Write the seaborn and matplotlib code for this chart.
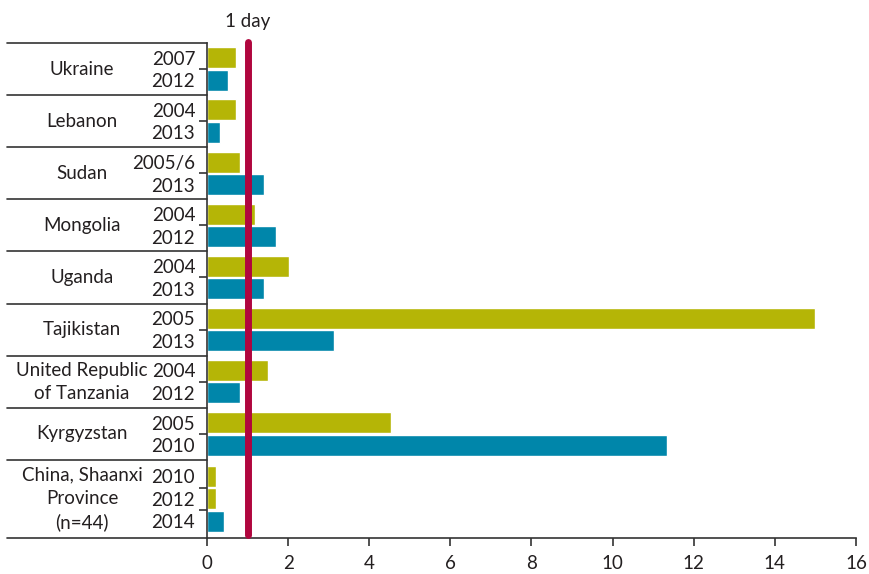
import pandas as pd
import seaborn as sns
import matplotlib.pyplot as plt

# Données : une ligne par barre, de haut en bas
pays = ["Ukraine", "Lebanon", "Sudan", "Mongolia", "Uganda", "Tajikistan",
        "United Republic\nof Tanzania", "Kyrgyzstan", "China, Shaanxi\nProvince\n(n=44)"]
annees = [["2007", "2012"], ["2004", "2013"], ["2005/6", "2013"], ["2004", "2012"],
          ["2004", "2013"], ["2005", "2013"], ["2004", "2012"], ["2005", "2010"],
          ["2010", "2012", "2014"]]
valeurs = [[0.71, 0.52], [0.71, 0.32], [0.81, 1.4], [1.18, 1.7], [2.02, 1.4],
           [15.0, 3.13], [1.5, 0.81], [4.54, 11.34], [0.22, 0.22, 0.42]]
series = [["first", "last"]] * 8 + [["first", "first", "last"]]

palette = {"first": "#B5B506", "last": "#0086AA"}
couleur_texte = "#231F20"
couleur_trait = "#333333"

# Positions : chaque groupe occupe autant d'unités que de barres,
# les barres d'un groupe sont serrées vers son centre
ecart = 0.864
lignes = []
bornes = [-0.5]
debut = -0.5
for p, ans, vals, ser in zip(pays, annees, valeurs, series):
    k = len(ans)
    centre = debut + k / 2
    for i, (a, v, s) in enumerate(zip(ans, vals, ser)):
        pos = centre + (i - (k - 1) / 2) * ecart
        lignes.append({"pos": round(pos, 4), "annee": a, "valeur": v, "serie": s})
    debut += k
    bornes.append(debut)
df = pd.DataFrame(lignes)
n = len(df)

sns.set_style("white")
plt.rcParams["font.family"] = ["Lato", "DejaVu Sans"]
plt.rcParams["font.size"] = 13.5

fig = plt.figure(figsize=(8.7, 5.74), dpi=100)
ax = fig.add_axes([207 / 870, 1 - 538 / 574, 649 / 870, 495 / 574])

sns.barplot(data=df, x="valeur", y="pos", hue="serie", palette=palette, orient="h",
            native_scale=True, dodge=False, width=0.806 / ecart, legend=False,
            saturation=1, ax=ax)

ax.set_xlim(0, 16)
ax.set_ylim(n - 0.5, -0.5)
ax.set_xticks(range(0, 17, 2))
ax.set_yticks(df["pos"])
ax.set_yticklabels(df["annee"])
ax.set_xlabel("")
ax.set_ylabel("")

# Petites graduations entre les barres d'un même groupe
mineurs = []
for g in range(1, n):
    if df["pos"][g] - df["pos"][g - 1] < 1:
        mineurs.append((df["pos"][g] + df["pos"][g - 1]) / 2)
ax.set_yticks(mineurs, minor=True)

ax.tick_params(axis="y", which="major", left=True, length=0, pad=8.5, colors=couleur_texte)
ax.tick_params(axis="y", which="minor", left=True, length=6, width=1.2,
               color=couleur_trait, direction="out")
ax.tick_params(axis="x", bottom=True, length=6, width=1.2, color=couleur_trait,
               direction="out", labelcolor=couleur_texte, pad=6)

for cote in ["top", "right"]:
    ax.spines[cote].set_visible(False)
for cote in ["left", "bottom"]:
    ax.spines[cote].set_color(couleur_trait)
    ax.spines[cote].set_linewidth(1.2)

# Lignes du tableau à gauche
gauche = -200 / 649
for b in bornes:
    ax.axhline(b, xmin=gauche, xmax=0, color=couleur_trait, lw=1.2, clip_on=False)

# Noms des pays
trans = ax.get_yaxis_transform()
for p, b0, b1 in zip(pays, bornes[:-1], bornes[1:]):
    ax.text(-125 / 649, (b0 + b1) / 2, p, transform=trans, ha="center", va="center",
            color=couleur_texte, linespacing=1.45)

# Ligne rouge "1 day"
ax.plot([1, 1], [-0.52, n - 0.62], color="#B0063E", lw=5, solid_capstyle="round",
        clip_on=False, zorder=5)
ax.text(1, 1 + 21 / 495, "1 day", transform=ax.get_xaxis_transform(), ha="center",
        va="center", color=couleur_texte)

fig.savefig("out.png", dpi=100)
